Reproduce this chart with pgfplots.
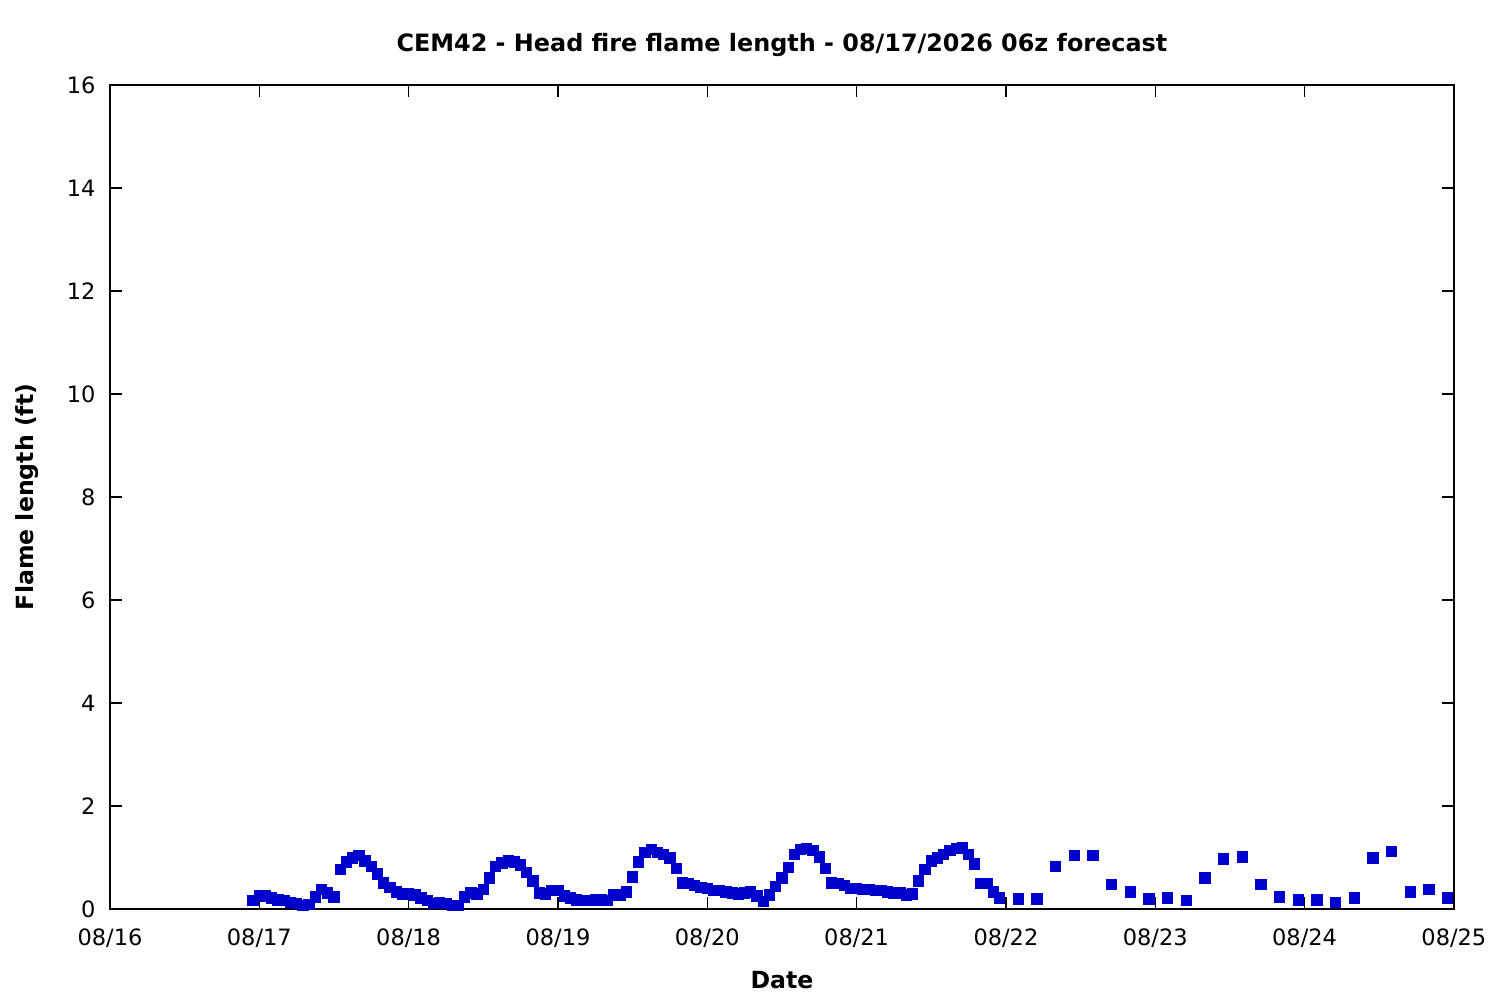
\documentclass[border=0pt]{standalone}
\usepackage{pgfplots}
\pgfplotsset{compat=1.18}
\usetikzlibrary{calc}
\usepackage{fontspec}
\setmainfont{DejaVu Sans}
\definecolor{myblue}{RGB}{0,0,205}
\pgfplotstableread{
h v
23 0.16
24 0.25
25 0.25
26 0.21
27 0.17
28 0.16
29 0.12
30 0.10
31 0.06
32 0.08
33 0.23
34 0.37
35 0.31
36 0.23
37 0.76
38 0.91
39 0.99
40 1.03
41 0.93
42 0.83
43 0.68
44 0.50
45 0.41
46 0.33
47 0.29
48 0.29
49 0.27
50 0.21
51 0.16
52 0.10
53 0.12
54 0.10
55 0.06
56 0.06
57 0.23
58 0.31
59 0.29
60 0.37
61 0.60
62 0.83
63 0.89
64 0.93
65 0.91
66 0.85
67 0.70
68 0.54
69 0.31
70 0.29
71 0.35
72 0.35
73 0.25
74 0.21
75 0.17
76 0.16
77 0.16
78 0.17
79 0.17
80 0.16
81 0.27
82 0.27
83 0.33
84 0.62
85 0.91
86 1.09
87 1.15
88 1.09
89 1.05
90 0.99
91 0.78
92 0.50
93 0.49
94 0.45
95 0.41
96 0.39
97 0.35
98 0.35
99 0.33
100 0.31
101 0.29
102 0.31
103 0.33
104 0.25
105 0.14
106 0.27
107 0.43
108 0.60
109 0.80
110 1.05
111 1.15
112 1.17
113 1.13
114 1.01
115 0.78
116 0.50
117 0.49
118 0.45
119 0.39
120 0.39
121 0.37
122 0.37
123 0.35
124 0.35
125 0.33
126 0.31
127 0.31
128 0.27
129 0.29
130 0.54
131 0.76
132 0.93
133 0.99
134 1.05
135 1.13
136 1.17
137 1.18
138 1.05
139 0.87
140 0.49
141 0.49
142 0.33
143 0.21
146 0.19
149 0.19
152 0.83
155 1.03
158 1.03
161 0.47
164 0.33
167 0.19
170 0.21
173 0.16
176 0.60
179 0.97
182 1.01
185 0.47
188 0.23
191 0.17
194 0.17
197 0.12
200 0.21
203 0.99
206 1.11
209 0.33
212 0.37
215 0.21
}\flametable
\begin{document}
\fontsize{8}{9.6}\selectfont
\begin{tikzpicture}
\begin{axis}[
  scale only axis,
  width=483.8pt, height=296.6pt,
  xmin=0, xmax=216, ymin=0, ymax=16,
  xtick={0,24,...,216},
  xticklabels={08/16,08/17,08/18,08/19,08/20,08/21,08/22,08/23,08/24,08/25},
  ytick={0,2,...,16},
  tick align=inside,
  major tick length=4.2pt,
  minor tick num=0,
  axis line style={line width=0.45pt},
  every tick/.style={line width=0.45pt, black},
  /pgf/number format/assume math mode=true,
  tick label style={font=\fontsize{8.1}{9.6}\selectfont},
  xticklabel style={anchor=center, inner sep=0pt, yshift=-10.4pt},
  yticklabel style={anchor=east, inner sep=0pt, xshift=-5pt},
  title={\bfseries CEM42 - Head fire flame length - 08/17/2026 06z forecast},
  title style={at={(axis description cs:0.5,1.0523)}, anchor=center, yshift=-7.2pt, inner sep=0pt, font=\fontsize{8.6}{10}\selectfont},
  xlabel={\bfseries Date},
  xlabel style={at={(axis description cs:0.5,-0.0863)}, anchor=center, yshift=0pt, inner sep=0pt, font=\fontsize{8.5}{10}\selectfont},
  ylabel={\bfseries Flame length (ft)},
  ylabel style={at={(axis description cs:-0.0618,0.5)}, anchor=center, rotate=0, inner sep=0pt, font=\fontsize{8.5}{10}\selectfont},
  clip=false,
]
\addplot[only marks, mark=square*, mark size=1.85pt, mark options={fill=myblue, draw=myblue, line width=0pt}] table[x=h, y=v] {\flametable};
\end{axis}
\pgfresetboundingbox
\useasboundingbox ($(current axis.south west)+(-39.6pt,-32.8pt)$) rectangle ($(current axis.north east)+(16.6pt,30.6pt)$);
\end{tikzpicture}
\end{document}
